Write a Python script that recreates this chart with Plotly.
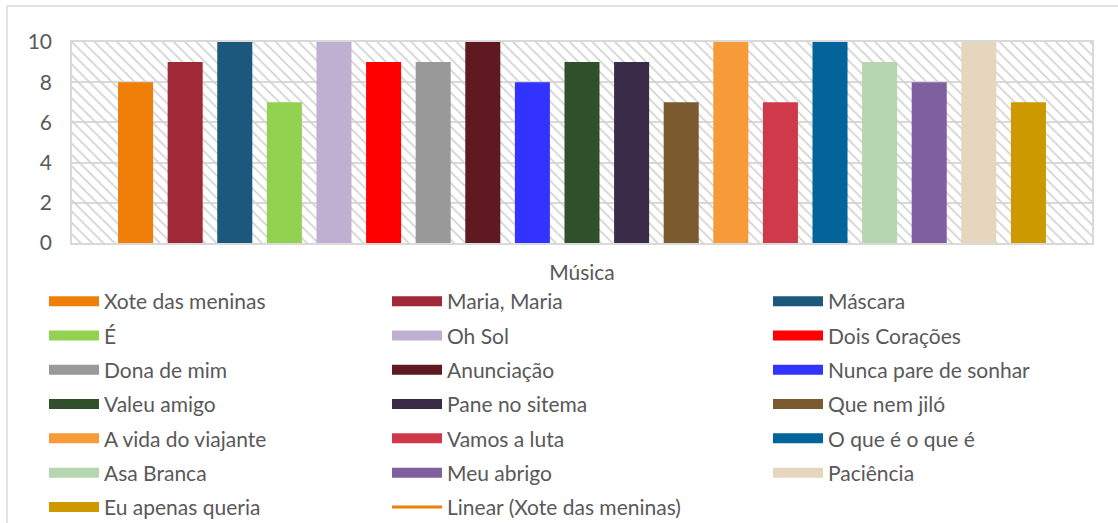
import plotly.graph_objects as go

W, H = 1118, 523

songs = ["Xote das meninas", "Maria, Maria", "Máscara", "É", "Oh Sol", "Dois Corações",
         "Dona de mim", "Anunciação", "Nunca pare de sonhar", "Valeu amigo", "Pane no sitema",
         "Que nem jiló", "A vida do viajante", "Vamos a luta", "O que é o que é", "Asa Branca",
         "Meu abrigo", "Paciência", "Eu apenas queria"]
values = [8, 9, 10, 7, 10, 9, 9, 10, 8, 9, 9, 7, 10, 7, 10, 9, 8, 10, 7]
colors = ["#F07F09", "#9F2936", "#1B587C", "#93D150", "#BFAFD0", "#FF0000",
          "#999999", "#5F1921", "#3333FF", "#30502B", "#3A2B48",
          "#7A5A2E", "#F79A38", "#CE3A4A", "#02649A", "#B5D6AE",
          "#7F5FA0", "#E6D6BE", "#CC9900"]
category = ["Música"]
y_ticks = [0, 2, 4, 6, 8, 10]
trend_name = "Linear (Xote das meninas)"

FONT = "Lato"
FS = 21
GRAY = "#595959"
GRID = "#d9d9d9"

fig = go.Figure()

# hatched plot background
fig.add_trace(go.Bar(x=[0.5], y=[max(y_ticks)], width=[1], xaxis="x", yaxis="y",
                     marker=dict(color="rgba(0,0,0,0)", line=dict(width=0),
                                 pattern=dict(shape="\\", fgcolor="#d2d2d2", size=8,
                                              solidity=0.22, fillmode="replace")),
                     hoverinfo="skip", showlegend=False))

# legend layout: 3 columns, row-major order
legend_ids = ["legend", "legend2", "legend3"]
for i, (s, v, c) in enumerate(zip(songs, values, colors)):
    fig.add_trace(go.Bar(x=category, y=[v], name=s, marker=dict(color=c, line=dict(width=0)),
                         xaxis="x2", yaxis="y", legendgroup=s, showlegend=False))
    fig.add_trace(go.Scatter(x=[None], y=[None], mode="lines", name=s,
                             line=dict(color=c, width=14), legendgroup=s,
                             legend=legend_ids[i % 3], xaxis="x2", yaxis="y"))

fig.add_trace(go.Scatter(x=[None], y=[None], mode="lines", name=trend_name,
                         line=dict(color="#F07F09", width=3), legendgroup=trend_name,
                         legend="legend2", xaxis="x2", yaxis="y"))

L, R, T, B = 72, 1092, 42, 243

leg_common = dict(xref="container", yref="container", xanchor="left", yanchor="top",
                  orientation="v", font=dict(family=FONT, size=FS, color=GRAY),
                  itemwidth=50, tracegroupgap=4, bgcolor="rgba(0,0,0,0)",
                  itemclick=False, itemdoubleclick=False)
cols_x = [44, 387, 768]
ytop = 1 - 281 / H

fig.update_layout(
    width=W, height=H,
    margin=dict(l=L, r=W - R, t=T, b=H - B, autoexpand=False),
    paper_bgcolor="white", plot_bgcolor="white",
    barmode="group", bargap=0.076, bargroupgap=0.294,
    font=dict(family=FONT, color=GRAY),
    xaxis=dict(type="linear", range=[0, 1], showgrid=False, zeroline=False,
               showticklabels=False, ticks="", showline=True, linecolor=GRID,
               linewidth=1.5, mirror=True, fixedrange=True,
               title=dict(text="Música", font=dict(family=FONT, size=FS, color=GRAY),
                          standoff=22)),
    xaxis2=dict(type="category", overlaying="x", visible=False, fixedrange=True),
    yaxis=dict(range=[0, 10], tickvals=y_ticks, showgrid=True, gridcolor=GRID,
               gridwidth=1.5, zeroline=False, showline=True, linecolor=GRID,
               linewidth=1.5, mirror=True, ticks="", ticklabelstandoff=14,
               tickfont=dict(family=FONT, size=FS, color=GRAY), fixedrange=True),
    legend=dict(x=cols_x[0] / W, y=ytop, **leg_common),
    legend2=dict(x=cols_x[1] / W, y=ytop, **leg_common),
    legend3=dict(x=cols_x[2] / W, y=ytop, **leg_common),
    shapes=[
        dict(type="line", xref="paper", yref="paper",
             x0=(7 - L) / (R - L), x1=(W + 5 - L) / (R - L),
             y0=(B - 6) / (B - T), y1=(B - 6) / (B - T),
             line=dict(color=GRID, width=1.5)),
        dict(type="line", xref="paper", yref="paper",
             x0=(7 - L) / (R - L), x1=(7 - L) / (R - L),
             y0=(B - 6) / (B - T), y1=(B - H - 5) / (B - T),
             line=dict(color=GRID, width=1.5)),
    ],
)

fig.write_html("out.html")
